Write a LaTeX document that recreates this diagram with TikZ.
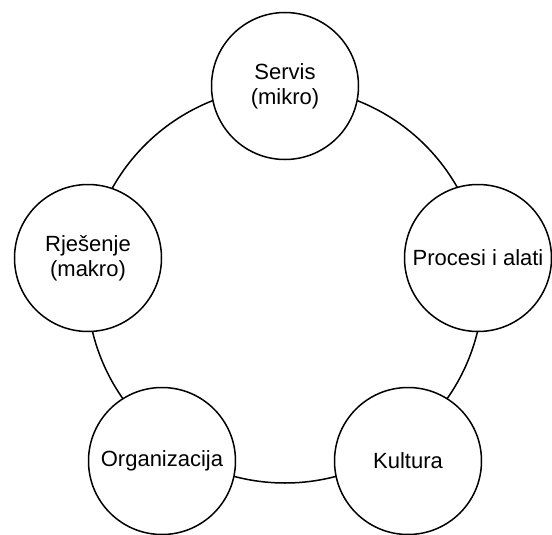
\documentclass[tikz,border=0pt]{standalone}
\usepackage{fontspec}
\setmainfont{Liberation Sans}
\begin{document}
\begin{tikzpicture}[x=1pt,y=-1pt,
    area/.style={circle,draw,line width=1.5pt,fill=white,minimum size=147pt,
      inner sep=0pt,align=center,font=\fontsize{22}{25}\selectfont}]
    \useasboundingbox (0,0) rectangle (552,535);
    \def\ringr{198}
    \coordinate (mid) at (285,285);
    \draw[line width=1.5pt] (mid) circle (\ringr);

    \node[area] (servis) at (285,86) {Servis\\(mikro)};
    \node[area] (procesi) at (478,258) {Procesi i alati};
    \node[area] (kultura) at (408,461) {Kultura};
    \node[area] (organizacija) at (162,461) {Organizacija};
    \node[area] (rjesenje) at (88,258) {Rješenje\\(makro)};
\end{tikzpicture}
\end{document}
